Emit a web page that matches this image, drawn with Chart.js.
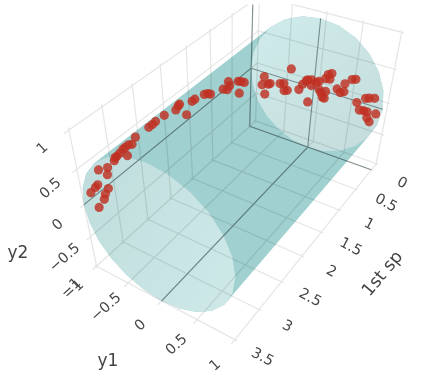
<!DOCTYPE html><html><head><meta charset="utf-8"><script src="https://cdn.jsdelivr.net/npm/chart.js@4"></script>
<style>html,body{margin:0;background:#fff}canvas{display:block}</style></head><body><canvas id="c" width="423" height="373"></canvas><script>
// --- data: first special component, y1, y2
const firstSp=[2.55,2.62,2.68,2.74,2.78,2.72,2.84,2.89,2.92,2.94,3.20,3.06,3.08,3.25,3.29,3.37,3.10,3.16,3.19,3.29,2.30,2.23,2.17,2.00,1.77,1.72,1.69,1.56,1.43,1.37,1.16,1.08,1.02,0.72,0.62,0.56,0.59,0.34,0.27,0.18,0.31,
0,0,0,0,0,0,0,0,0,0,0,0,0,0,0,0,0,0,0,0,0,0,0,0,0,0,0,0,0,0,0,0,0,0,0,0,0,0,0,0,0,0,0,0];
const y1=[-1,-1,-1,-1,-1,-1,-1,-1,-1,-1,-1,-1,-1,-1,-1,-1,-1,-1,-1,-1,-1,-1,-1,-1,-1,-1,-1,-1,-1,-1,-1,-1,-1,-1,-1,-1,-1,-1,-1,-1,-1,
-0.78,-0.81,-0.71,-0.68,-0.76,-0.52,-0.46,-0.45,-0.40,-0.36,-0.22,-0.17,-0.12,-0.07,-0.10,-0.04,-0.04,0.03,0.07,0.08,0.11,0.18,0.14,0.17,0.16,0.19,0.24,0.22,0.44,0.34,0.39,0.44,0.53,0.58,0.64,0.75,0.80,0.87,0.69,0.75,0.80,0.81,0.85,0.92];
const y2=[0.34,0.28,0.31,0.31,0.31,0.18,0.29,0.28,0.28,0.25,0.29,0.23,0.14,0.11,0.10,0.08,-0.05,-0.09,-0.15,-0.20,0.33,0.33,0.34,0.33,0.28,0.31,0.32,0.09,0.22,0.22,0.18,0.15,0.11,0.03,-0.03,0,0.08,-0.04,-0.08,-0.14,-0.25,
-0.07,-0.21,-0.17,-0.15,-0.35,-0.10,-0.08,-0.19,-0.17,0.18,-0.10,0,0.07,-0.25,0.09,0.11,0.02,0.09,0.12,0,-0.04,0,-0.10,-0.11,0.19,0.26,0.29,0.20,0.20,0.09,0.05,0.08,0.29,0.31,-0.02,0.08,0.10,0.12,-0.12,-0.11,-0.11,-0.20,-0.25,-0.10];
const firstSpTicks=[0,0.5,1,1.5,2,2.5,3,3.5];
const y1Ticks=[-1,-0.5,0,0.5,1];
const y2Ticks=[-1,-0.5,0,0.5,1];
const firstSpLabels=['0','0.5','1','1.5','2','2.5','3','3.5'];
const y1Labels=['\u22121','\u22120.5','0','0.5','1'];
const y2Labels=['\u22121','\u22120.5','0','0.5','1'];
// unit circle ring of the fitted cylinder
const ringA=[1,.966,.866,.707,.5,.259,0,-.259,-.5,-.707,-.866,-.966,-1,-.966,-.866,-.707,-.5,-.259,0,.259,.5,.707,.866,.966];
const ringB=[0,.259,.5,.707,.866,.966,1,.966,.866,.707,.5,.259,0,-.259,-.5,-.707,-.866,-.966,-1,-.966,-.866,-.707,-.5,-.259];
const cylEnds=[0,3.5];
const range={x:[-0.17,3.57],y:[-1.03,1.03],z:[-1.03,1.03]};
// --- scene camera
const cam=[-56.6195,51.5580,-17.6809,315.973,28.2564,16.8088,-72.1394,85.1911,-0.0665798,-0.0489215,-0.0767997,1];
function proj(x,y,z){const w=cam[8]*x+cam[9]*y+cam[10]*z+cam[11];return {x:(cam[0]*x+cam[1]*y+cam[2]*z+cam[3])/w,y:(cam[4]*x+cam[5]*y+cam[6]*z+cam[7])/w}}
const GAP={x:null,y:null};
function segs(list){const o=[];for(const [a,b] of list){o.push(proj(...a),proj(...b),GAP)}return o}
const gridList=[];
for(const t of firstSpTicks){gridList.push([[t,range.y[0],-1],[t,range.y[1],-1]]);gridList.push([[t,-1,range.z[0]],[t,-1,range.z[1]]])}
for(const t of y1Ticks){gridList.push([[range.x[0],t,-1],[range.x[1],t,-1]]);gridList.push([[range.x[0],t,range.z[0]],[range.x[0],t,range.z[1]]])}
for(const t of y2Ticks){gridList.push([[range.x[0],-1,t],[range.x[1],-1,t]]);gridList.push([[range.x[0],range.y[0],t],[range.x[0],range.y[1],t]])}
const axisList=[[[0,-1,-1],[0,1,-1]],[[0,0,-1],[0,0,1]],[[0,-1,-1],[0,-1,1]],[[0,-1,0],[0,1,0]],[[0,0,-1],[3.5,0,-1]],[[0,-1,0],[3.5,-1,0]]];
const ring=x=>ringA.map((a,i)=>proj(x,a,ringB[i]));
function hull(pts){const s=[...pts].sort((a,b)=>a.x-b.x||a.y-b.y),cr=(o,a,b)=>(a.x-o.x)*(b.y-o.y)-(a.y-o.y)*(b.x-o.x),lo=[],up=[];
 for(const p of s){while(lo.length>1&&cr(lo[lo.length-2],lo[lo.length-1],p)<=0)lo.pop();lo.push(p)}
 for(const p of s.reverse()){while(up.length>1&&cr(up[up.length-2],up[up.length-1],p)<=0)up.pop();up.push(p)}
 return lo.slice(0,-1).concat(up.slice(0,-1))}
const closed=a=>a.concat([a[0]]);
const area=(data,color)=>({data:closed(data),showLine:true,fill:'shape',backgroundColor:color,borderWidth:0,borderColor:'transparent',pointRadius:0});
const canvas=document.getElementById('c');
function shade(a,b,c0,c1){const g=canvas.getContext('2d').createLinearGradient(a.x,a.y,b.x,b.y);g.addColorStop(0,c0);g.addColorStop(1,c1);return g}
const datasets=[
 area(hull(ring(cylEnds[0]).concat(ring(cylEnds[1]))),'#a0d0cf'),
 area(ring(cylEnds[0]),shade(proj(0,-0.7,0.7),proj(0,0.7,-0.7),'#cfeaea','#c5dedd')),
 area(ring(cylEnds[1]),shade(proj(3.5,-1,0),proj(3.5,1,0),'#c0dedd','#cee8e8')),
 {data:segs(gridList),showLine:true,fill:false,borderColor:'rgba(0,0,0,0.105)',borderWidth:1.2,pointRadius:0,spanGaps:false},
 {data:segs(axisList),showLine:true,fill:false,borderColor:'rgba(50,70,72,0.55)',borderWidth:1.1,pointRadius:0,spanGaps:false},
 {data:firstSp.map((v,i)=>proj(v,y1[i],y2[i])),showLine:false,backgroundColor:'rgba(192,48,34,0.82)',borderWidth:0,pointRadius:4.6}
];
datasets.forEach((d,i)=>{d.order=-i});
const INK='#444';
const textPlugin={id:'sceneText',afterDatasetsDraw(chart){
 const c=chart.ctx;c.save();c.fillStyle=INK;c.textAlign='center';c.textBaseline='middle';
 const put=(t,x,y,rot,size)=>{c.save();c.translate(x,y);c.rotate(rot*Math.PI/180);c.font=size+'px "DejaVu Sans"';c.fillText(t,0,0);c.restore()};
 firstSpTicks.forEach((t,i)=>{const p=proj(t,1,-1);put(firstSpLabels[i],p.x+27,p.y+14,28,14.5)});
 y1Ticks.forEach((t,i)=>{const p=proj(3.5,t,-1);put(y1Labels[i],p.x-20,p.y+22,-42,14.5)});
 y2Ticks.forEach((t,i)=>{const p=proj(3.5,-1,t);put(y2Labels[i],p.x-23,p.y+20,-42,14.5)});
 put('1st sp',383,274,-50,17.5);put('y1',108,362,0,17);put('y2',18,254,0,17);
 c.restore();
}};
new Chart(canvas,{type:'scatter',data:{datasets},plugins:[textPlugin],options:{responsive:false,animation:false,layout:{padding:0},
 plugins:{legend:{display:false},tooltip:{enabled:false},title:{display:false}},
 scales:{x:{type:'linear',min:0,max:423,display:false},y:{type:'linear',min:0,max:373,reverse:true,display:false}}}});
</script></body></html>
